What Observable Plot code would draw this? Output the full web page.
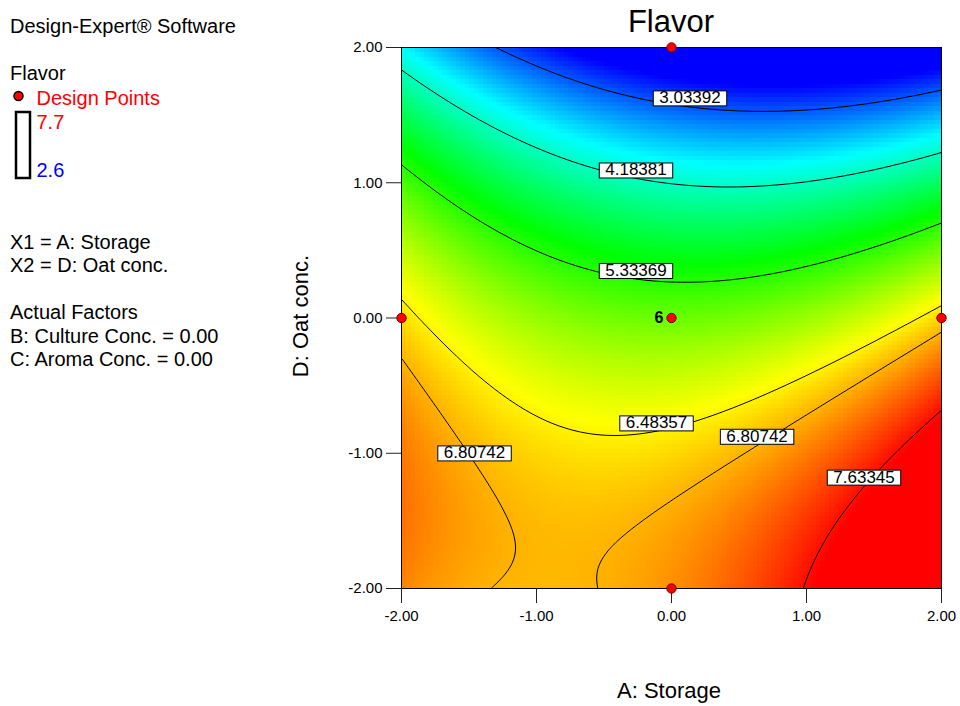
<!DOCTYPE html>
<html>
<head>
<meta charset="utf-8">
<script src="https://cdn.jsdelivr.net/npm/d3@7"></script>
<script src="https://cdn.jsdelivr.net/npm/@observablehq/plot@0.6"></script>
<style>
  body { margin: 0; background: #fff; }
  #chart { width: 960px; height: 706px; overflow: hidden; }
</style>
</head>
<body>
<div id="chart"></div>
<script>
// Flavor response surface in coded units, B and C held at 0:
// intercept, A, D, AD, A^2, D^2
const flavorModel = [5.6793, 0.0099, -1.2226, -0.2159, 0.2346, -0.2865];

// Contour levels drawn on the surface
const levels = [3.03392, 4.18381, 5.33369, 6.48357, 6.80742, 7.63345];

// Where each contour level is labelled (A, D)
const labelA = [0.137, -0.263, -0.263, -0.111, -1.459, 0.634, 1.426];
const labelD = [1.627, 1.094, 0.351, -0.776, -0.998, -0.875, -1.177];
const labelLevel = [3.03392, 4.18381, 5.33369, 6.48357, 6.80742, 6.80742, 7.63345];

// Design points (A, D) and the replicate count at the centre
const pointA = [0, -2, 0, 2, 0];
const pointD = [2, 0, 0, 0, -2];
const centerReps = [{a: 0, d: 0, n: "6"}];

// Colour ramp from the lowest to the highest observed Flavor
const colorStops = [2.6, 3.875, 5.15, 6.425, 7.7];
const colorRange = ["#0000ff", "#00ffff", "#00ff00", "#ffff00", "#ff0000"];
const tickValues = [-2, -1, 0, 1, 2];

const [b0, bA, bD, bAD, bAA, bDD] = flavorModel;
const flavor = (a, d) => b0 + bA * a + bD * d + bAD * a * d + bAA * a * a + bDD * d * d;

const labels = labelA.map((a, i) => ({a, d: labelD[i], level: labelLevel[i]}));
const designPoints = pointA.map((a, i) => ({a, d: pointD[i]}));
const fmt2 = v => v.toFixed(2);

const font = "Arial, 'Liberation Sans', Helvetica, sans-serif";
const chart = Plot.plot({
  width: 960, height: 706,
  marginLeft: 401, marginRight: 19, marginTop: 47, marginBottom: 118,
  style: {fontFamily: font, fontSize: "15px", background: "#fff", color: "#000"},
  x: {domain: [-2, 2]},
  y: {domain: [-2, 2]},
  color: {type: "linear", domain: colorStops, range: colorRange, clamp: true, interpolate: "rgb"},
  marks: [
    Plot.raster({fill: flavor, x1: -2, x2: 2, y1: -2, y2: 2, width: 120, height: 120, imageRendering: "pixelated"}),
    Plot.contour({value: flavor, x1: -2, x2: 2, y1: -2, y2: 2, thresholds: levels, stroke: "#000", strokeWidth: 1, fill: "none", pixelSize: 1}),
    Plot.frame({stroke: "#000"}),
    Plot.axisX({ticks: tickValues, tickFormat: fmt2, tickSize: 15, tickPadding: 7, label: null, stroke: "#222"}),
    Plot.axisY({ticks: tickValues, tickFormat: fmt2, tickSize: 15, tickPadding: 4, label: null, stroke: "#222"}),
    Plot.text(labels, {x: "a", y: "d", text: d => d.level.toFixed(5), fontSize: 17, fill: "#000", ariaLabel: () => "contour-label"}),
    Plot.dot(designPoints, {x: "a", y: "d", r: 4.7, fill: "#ff0000", stroke: "#700000", strokeWidth: 1}),
    Plot.text(centerReps, {x: "a", y: "d", text: "n", dx: -8, textAnchor: "end", fontSize: 16, fontWeight: "bold", fill: "#000"})
  ]
});
document.getElementById("chart").append(chart);

// White boxes behind the contour labels (same transform as each label)
const svg = d3.select(chart);
svg.selectAll('text[aria-label="contour-label"]').each(function () {
  const bb = this.getBBox();
  const cy = bb.y + bb.height / 2 + 0.5;
  d3.select(this.parentNode).insert("rect", () => this)
    .attr("transform", this.getAttribute("transform"))
    .attr("x", bb.x - 6).attr("y", cy - 7.5)
    .attr("width", bb.width + 12).attr("height", 15)
    .attr("fill", "#fff").attr("stroke", "#000").attr("stroke-width", 1);
});

// Side panel, title and axis titles
const addText = (x, y, str, opts = {}) => svg.append("text")
  .attr("x", x).attr("y", y).attr("font-family", font)
  .attr("font-size", opts.size || 20).attr("fill", opts.fill || "#000")
  .attr("text-anchor", opts.anchor || "start")
  .attr("transform", opts.rotate ? `rotate(-90 ${x} ${y})` : null)
  .text(str);

addText(10, 32.5, "Design-Expert\u00ae Software");
addText(10, 80, "Flavor");
svg.append("circle").attr("cx", 18.5).attr("cy", 96).attr("r", 4.5)
  .attr("fill", "#ff0000").attr("stroke", "#000").attr("stroke-width", 1.5);
addText(36.5, 104.5, "Design Points", {fill: "#ff0000"});
svg.append("rect").attr("x", 16).attr("y", 112).attr("width", 14).attr("height", 66)
  .attr("fill", "#fff").attr("stroke", "#000").attr("stroke-width", 2.5);
addText(36.5, 128.7, "7.7", {fill: "#ff0000"});
addText(36.5, 176.7, "2.6", {fill: "#0000ff"});
addText(10, 249.3, "X1 = A: Storage");
addText(10, 272, "X2 = D: Oat conc.");
addText(10, 319.3, "Actual Factors");
addText(10, 342.6, "B: Culture Conc. = 0.00");
addText(10, 366, "C: Aroma Conc. = 0.00");
addText(671, 32.3, "Flavor", {size: 31, anchor: "middle"});
addText(669, 698, "A: Storage", {size: 22, anchor: "middle"});
addText(308, 316, "D: Oat conc.", {size: 22, anchor: "middle", rotate: true});
</script>
</body>
</html>
